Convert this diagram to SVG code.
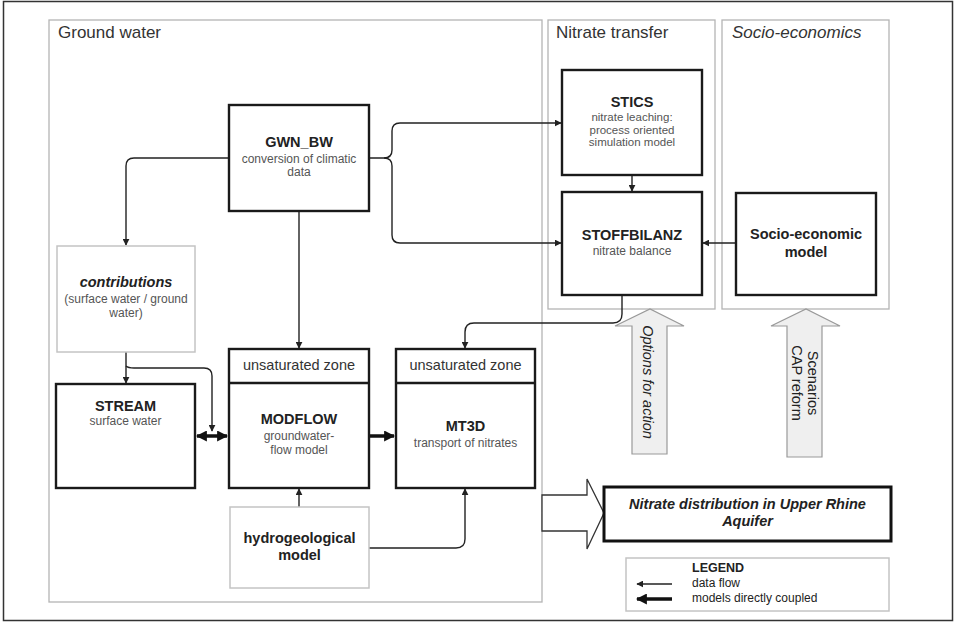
<svg xmlns="http://www.w3.org/2000/svg" width="955" height="622" viewBox="0 0 955 622">
<defs>
<style>
text{font-family:"Liberation Sans",Arial,sans-serif;fill:#222}
.panel{fill:none;stroke:#b4b4b4;stroke-width:1.3}
.box{fill:#fff;stroke:#1a1a1a;stroke-width:2.4}
.lbox{fill:#fff;stroke:#c4c4c4;stroke-width:1.5}
.title{font-size:17px;fill:#333}
.b{font-size:14.5px;font-weight:bold;text-anchor:middle}
.s{font-size:12px;fill:#555;text-anchor:middle}
.s2{font-size:11.5px;fill:#555;text-anchor:middle}
.z{font-size:14.5px;fill:#333;text-anchor:middle}
.flow{fill:none;stroke:#222;stroke-width:1.4;marker-end:url(#ah)}
.thick{fill:none;stroke:#111;stroke-width:3.5}
.big{fill:#efefef;stroke:#999;stroke-width:1.2}
</style>
<marker id="ah" viewBox="0 0 10 10" refX="9" refY="5" markerWidth="7" markerHeight="7" markerUnits="userSpaceOnUse" orient="auto"><path d="M0,0 L10,5 L0,10 z" fill="#222"/></marker>
<marker id="th" viewBox="0 0 10 10" refX="9" refY="5" markerWidth="11" markerHeight="11" markerUnits="userSpaceOnUse" orient="auto"><path d="M0,0 L10,5 L0,10 z" fill="#111"/></marker>
<marker id="ths" viewBox="0 0 10 10" refX="1" refY="5" markerWidth="11" markerHeight="11" markerUnits="userSpaceOnUse" orient="auto"><path d="M10,0 L0,5 L10,10 z" fill="#111"/></marker>
</defs>
<rect x="0" y="0" width="955" height="622" fill="#fff"/>
<rect x="3.5" y="1.5" width="949" height="619" fill="none" stroke="#333" stroke-width="1.5"/>

<g id="panels">
<rect class="panel" x="49" y="20" width="493" height="582"/>
<text class="title" x="58" y="38">Ground water</text>
<rect class="panel" x="548" y="20" width="167" height="289"/>
<text class="title" x="556" y="38">Nitrate transfer</text>
<rect class="panel" x="722" y="20" width="167" height="289"/>
<text class="title" x="732" y="38" font-style="italic">Socio-economics</text>
</g>

<g id="connectors">
<path class="flow" d="M229,158 H134 Q126,158 126,166 V245"/>
<path class="flow" d="M299,211 V348"/>
<path class="flow" d="M369,158 H384 Q392,158 392,150 V131 Q392,123 400,123 H561"/>
<path class="flow" d="M384,158 Q392,158 392,166 V235 Q392,243 400,243 H561"/>
<path class="flow" d="M632,175 V191"/>
<path class="flow" d="M736,243 H703"/>
<path class="flow" d="M126,352 V383"/>
<path class="flow" d="M126,366 Q128,368 134,368 H204 Q212,368 212,376 V431"/>
<path class="flow" d="M622,295 V314 Q622,323 613,323 H474 Q465,323 465,332 V348"/>
<path class="flow" d="M299,507 V489"/>
<path class="flow" d="M369,548 H456 Q465,548 465,539 V489"/>
<path class="thick" d="M197,436 H227" marker-start="url(#ths)" marker-end="url(#th)"/>
<path class="thick" d="M369,436 H394" marker-end="url(#th)"/>
</g>

<g id="gwn_bw">
<rect class="box" x="229" y="105" width="140" height="106"/>
<text class="b" x="299" y="147">GWN_BW</text>
<text class="s" x="299" y="163">conversion of climatic</text>
<text class="s" x="299" y="176">data</text>
</g>

<g id="stics">
<rect class="box" x="562" y="70" width="140" height="105"/>
<text class="b" x="632" y="107">STICS</text>
<text class="s2" x="632" y="121">nitrate leaching:</text>
<text class="s2" x="632" y="133.5">process oriented</text>
<text class="s2" x="632" y="146">simulation model</text>
</g>

<g id="stoffbilanz">
<rect class="box" x="562" y="192" width="140" height="103"/>
<text class="b" x="632" y="240">STOFFBILANZ</text>
<text class="s" x="632" y="255">nitrate balance</text>
</g>

<g id="socio">
<rect class="box" x="736" y="193" width="140" height="102"/>
<text class="b" x="806" y="239">Socio-economic</text>
<text class="b" x="806" y="257">model</text>
</g>

<g id="contributions">
<rect class="lbox" x="57" y="246" width="138" height="106"/>
<text class="b" x="126" y="287" font-style="italic">contributions</text>
<text class="s" x="126" y="303">(surface water / ground</text>
<text class="s" x="126" y="317">water)</text>
</g>

<g id="stream">
<rect class="box" x="56" y="384" width="139" height="104"/>
<text class="b" x="125.5" y="411">STREAM</text>
<text class="s" x="125.5" y="425">surface water</text>
</g>

<g id="modflow">
<rect class="box" x="229" y="349" width="140" height="139"/>
<line x1="229" y1="383" x2="369" y2="383" stroke="#1a1a1a" stroke-width="2.4"/>
<text class="z" x="299" y="370">unsaturated zone</text>
<text class="b" x="299" y="424">MODFLOW</text>
<text class="s" x="299" y="440">groundwater-</text>
<text class="s" x="299" y="454">flow model</text>
</g>

<g id="mt3d">
<rect class="box" x="396" y="349" width="139" height="139"/>
<line x1="396" y1="383" x2="535" y2="383" stroke="#1a1a1a" stroke-width="2.4"/>
<text class="z" x="465.5" y="370">unsaturated zone</text>
<text class="b" x="465.5" y="431">MT3D</text>
<text class="s" x="465.5" y="447">transport of nitrates</text>
</g>

<g id="hydro">
<rect class="lbox" x="230" y="507" width="139" height="81"/>
<text class="b" x="299.5" y="543">hydrogeological</text>
<text class="b" x="299.5" y="560">model</text>
</g>

<g id="options">
<polygon class="big" points="632,454 632,326 615,326 650,309 684,326 667,326 667,454"/>
<text x="0" y="0" transform="translate(643,382) rotate(90)" text-anchor="middle" font-size="14.5" font-style="italic" fill="#333">Options for action</text>
</g>

<g id="scenarios">
<polygon class="big" points="787,457 787,326 771,326 806,309 840,326 822,326 822,457"/>
<text x="0" y="0" transform="translate(808,383) rotate(90)" text-anchor="middle" font-size="14.5" fill="#333">Scenarios</text>
<text x="0" y="0" transform="translate(792,383) rotate(90)" text-anchor="middle" font-size="14.5" fill="#333">CAP reform</text>
</g>

<g id="nitrate_distribution">
<polygon points="542,495 587,495 587,479 604,513 587,549 587,531 542,531" fill="#fff" stroke="#333" stroke-width="1.3"/>
<rect x="604" y="487" width="287" height="54" fill="#fff" stroke="#111" stroke-width="3"/>
<text class="b" x="747.5" y="509" font-style="italic">Nitrate distribution in Upper Rhine</text>
<text class="b" x="747.5" y="526" font-style="italic">Aquifer</text>
</g>

<g id="legend">
<rect class="lbox" x="626" y="558" width="263" height="53"/>
<text x="692" y="572" font-size="12.5" font-weight="bold">LEGEND</text>
<path d="M672,584 H637" fill="none" stroke="#222" stroke-width="1.4" marker-end="url(#ah)"/>
<path d="M672,599 H637" class="thick" marker-end="url(#th)"/>
<text x="692" y="587" font-size="12" fill="#555">data flow</text>
<text x="692" y="602" font-size="12" fill="#555">models directly coupled</text>
</g>
</svg>
